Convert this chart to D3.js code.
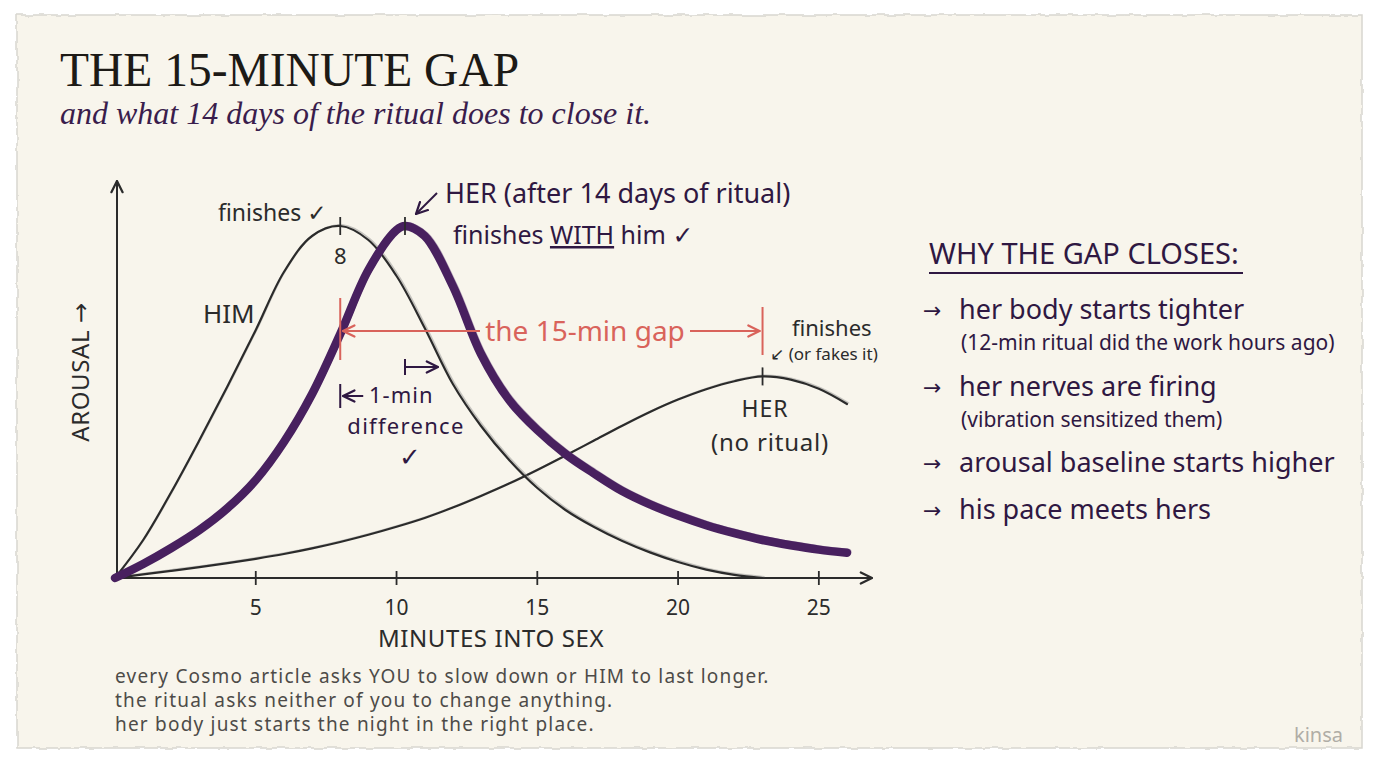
<!DOCTYPE html>
<html>
<head>
<meta charset="utf-8">
<script src="https://cdn.jsdelivr.net/npm/d3@7"></script>
<style>
  body { margin: 0; background: #fff; }
  svg text { font-family: "Noto Sans", sans-serif; }
  .sym { font-family: "DejaVu Sans", sans-serif; }
</style>
</head>
<body>
<div id="chart-area"></div>
<script>
// data (arousal 0-100, minutes into sex)
const himMinutes = [0,1,2,3,4,5,6,7,8,9,10,11,12,13,14,15,16,17,18,19,20,21,22,23]
const himArousal = [0,9.5,21.5,34.5,48,62,76.5,85.5,88,84.5,75.5,62.5,48.5,38,29.5,22.5,17,12.8,9.3,6.4,4,2.1,0.8,0]

const ritualMinutes = [0,1,2,3,4,5,6,7,8,9,10,10.3,11,12,13,14,15,16,17,18,19,20,21,22,23,24,25,26]
const ritualArousal = [0,3.5,7.5,12,17.5,24.5,34,46,61,77,87,88,85.5,73,56,44.5,37,31,26.2,21.8,18.4,15.6,13.2,11.2,9.5,8.2,7.1,6.3]

const noRitualMinutes = [0,1,2,3,4,5,6,7,8,9,10,11,12,13,14,15,16,17,18,19,20,21,22,23,24,25,26]
const noRitualArousal = [0,0.9,1.8,2.7,3.7,4.8,6,7.4,9,10.8,12.8,15,17.6,20.5,23.6,27,30.6,34.3,38,41.5,44.6,47.2,49.2,50.4,49.6,47.3,43.5]

const xTicks = [5, 10, 15, 20, 25]
const himPeak = 8
const ritualPeak = 10.3
const noRitualPeak = 23

const reasons = [
    ["her body starts tighter", "(12-min ritual did the work hours ago)"],
    ["her nerves are firing", "(vibration sensitized them)"],
    ["arousal baseline starts higher", null],
    ["his pace meets hers", null]
]
const footer = [
    "every Cosmo article asks YOU to slow down or HIM to last longer.",
    "the ritual asks neither of you to change anything.",
    "her body just starts the night in the right place."
]

const ink = "#2b2b2b"
const purple = "#2f1842"
const thick = "#48205f"
const red = "#d9635b"

const svg = d3.select("#chart-area").append("svg")
    .attr("width", 1376)
    .attr("height", 768)

const defs = svg.append("defs")
const rough = defs.append("filter").attr("id", "rough")
rough.append("feTurbulence").attr("type", "fractalNoise").attr("baseFrequency", 0.08).attr("numOctaves", 2).attr("result", "n")
rough.append("feDisplacementMap").attr("in", "SourceGraphic").attr("in2", "n").attr("scale", 4)

// marker heads
function head(id, color) {
    defs.append("marker").attr("id", id)
        .attr("viewBox", "0 0 10 10").attr("refX", 9).attr("refY", 5)
        .attr("markerWidth", 14).attr("markerHeight", 14).attr("markerUnits", "userSpaceOnUse")
        .attr("orient", "auto-start-reverse")
        .append("path").attr("d", "M1,1 L9,5 L1,9")
        .attr("fill", "none").attr("stroke", color).attr("stroke-width", 1.6).attr("stroke-linecap", "round")
}
head("hInk", ink)
head("hRed", red)
head("hPurple", purple)

// paper
svg.append("rect").attr("x", 17).attr("y", 15).attr("width", 1345).attr("height", 733)
    .attr("fill", "#f8f5ec").attr("stroke", "#d8d6d0").attr("stroke-width", 1.5)
    .attr("filter", "url(#rough)")

// title
svg.append("text").attr("x", 60).attr("y", 86)
    .style("font-family", "'Liberation Serif', serif").style("font-size", "47.5px")
    .attr("fill", "#1d1a16").text("THE 15-MINUTE GAP")
svg.append("text").attr("x", 60).attr("y", 124)
    .style("font-family", "'Liberation Serif', serif").style("font-size", "32px").style("font-style", "italic")
    .attr("fill", "#3a1d4c").text("and what 14 days of the ritual does to close it.")

// scales
const x = d3.scaleLinear().domain([0, 26]).range([115, 847])
const y = d3.scaleLinear().domain([0, 100]).range([578, 178])

// axes
const g = svg.append("g")
g.append("line").attr("x1", x(0) + 2).attr("y1", y(0) + 2).attr("x2", x(0) + 2).attr("y2", 181)
    .attr("stroke", ink).attr("stroke-width", 2).attr("marker-end", "url(#hInk)")
g.append("line").attr("x1", x(0) + 1).attr("y1", y(0)).attr("x2", 872).attr("y2", y(0))
    .attr("stroke", ink).attr("stroke-width", 2).attr("marker-end", "url(#hInk)")

g.selectAll(".tick").data(xTicks).enter().append("line")
    .attr("x1", d => x(d)).attr("x2", d => x(d))
    .attr("y1", y(0) - 7).attr("y2", y(0) + 7)
    .attr("stroke", ink).attr("stroke-width", 1.8)
g.selectAll(".tickLabel").data(xTicks).enter().append("text")
    .attr("x", d => x(d)).attr("y", 615)
    .attr("text-anchor", "middle").attr("fill", ink)
    .style("font-size", "21px").text(d => d)

g.append("text").attr("x", 491).attr("y", 647).attr("text-anchor", "middle")
    .attr("fill", ink).style("font-size", "24px").style("letter-spacing", "0.6px")
    .text("MINUTES INTO SEX")
const yl = g.append("text").attr("transform", "translate(89,372) rotate(-90)")
    .attr("text-anchor", "middle").attr("fill", ink).style("font-size", "24px")
    .style("letter-spacing", "0.6px")
yl.append("tspan").text("AROUSAL ")
yl.append("tspan").attr("class", "sym").text("\u2192")

// curves
const line = d3.line()
    .x(d => x(d[0]))
    .y(d => y(d[1]))
    .curve(d3.curveCatmullRom.alpha(0.5))

const him = d3.zip(himMinutes, himArousal)
const ritual = d3.zip(ritualMinutes, ritualArousal)
const noRitual = d3.zip(noRitualMinutes, noRitualArousal)

function sketch(data, color, width, shadow) {
    g.append("path").datum(data).attr("d", line)
        .attr("transform", "translate(1.5,-1.2)")
        .attr("fill", "none").attr("stroke", shadow).attr("stroke-width", width * 0.7)
        .attr("stroke-opacity", 0.45).attr("stroke-linecap", "round")
    g.append("path").datum(data).attr("d", line)
        .attr("fill", "none").attr("stroke", color).attr("stroke-width", width)
        .attr("stroke-linecap", "round").attr("stroke-linejoin", "round")
}
sketch(noRitual, ink, 2.2, "#888")
sketch(him, ink, 2.2, "#888")
sketch(ritual, thick, 8.5, "#6a4a80")

// peak markers
function peakTick(m, v) {
    g.append("line").attr("x1", x(m)).attr("x2", x(m))
        .attr("y1", y(v) - 9).attr("y2", y(v) + 9)
        .attr("stroke", ink).attr("stroke-width", 1.8)
}
peakTick(himPeak, 88)
peakTick(ritualPeak, 88)
peakTick(noRitualPeak, 50.4)

// HIM labels
g.append("text").attr("x", x(himPeak)).attr("y", 264).attr("text-anchor", "middle")
    .attr("fill", ink).style("font-size", "22px").text("8")
const fh = g.append("text").attr("x", 218).attr("y", 221).attr("fill", ink).style("font-size", "23px")
fh.append("tspan").text("finishes ")
fh.append("tspan").attr("class", "sym").text("\u2713")
g.append("text").attr("x", 203).attr("y", 323).attr("fill", ink)
    .style("font-size", "26px").text("HIM")

// HER ritual labels
g.append("line").attr("x1", 437).attr("y1", 193).attr("x2", 416).attr("y2", 214)
    .attr("stroke", purple).attr("stroke-width", 2).attr("marker-end", "url(#hPurple)")
g.append("text").attr("x", 445).attr("y", 203).attr("fill", purple)
    .style("font-size", "27px").text("HER (after 14 days of ritual)")
const fw = g.append("text").attr("x", 453).attr("y", 244).attr("fill", purple).style("font-size", "25px")
fw.append("tspan").text("finishes ")
fw.append("tspan").style("text-decoration", "underline").text("WITH")
fw.append("tspan").text(" him ")
fw.append("tspan").attr("class", "sym").text("\u2713")

// the 15-min gap
const gapY = 331
g.append("line").attr("x1", x(himPeak)).attr("x2", x(himPeak)).attr("y1", 298).attr("y2", 360)
    .attr("stroke", red).attr("stroke-width", 2)
g.append("line").attr("x1", 480).attr("x2", x(himPeak) + 3).attr("y1", gapY).attr("y2", gapY)
    .attr("stroke", red).attr("stroke-width", 2).attr("marker-end", "url(#hRed)")
g.append("text").attr("x", 585).attr("y", 341).attr("text-anchor", "middle")
    .attr("fill", red).style("font-size", "28px").text("the 15-min gap")
g.append("line").attr("x1", 690).attr("x2", x(noRitualPeak) - 3).attr("y1", gapY).attr("y2", gapY)
    .attr("stroke", red).attr("stroke-width", 2).attr("marker-end", "url(#hRed)")
g.append("line").attr("x1", x(noRitualPeak)).attr("x2", x(noRitualPeak)).attr("y1", 307).attr("y2", 355)
    .attr("stroke", red).attr("stroke-width", 2)

// HER no ritual labels
g.append("text").attr("x", 792).attr("y", 336).attr("fill", ink)
    .style("font-size", "22px").text("finishes")
const ft = g.append("text").attr("x", 770).attr("y", 360).attr("fill", ink).style("font-size", "17px")
ft.append("tspan").attr("class", "sym").text("\u2199")
ft.append("tspan").text(" (or fakes it)")
g.append("text").attr("x", 765).attr("y", 417).attr("text-anchor", "middle").attr("fill", ink)
    .style("font-size", "23px").style("letter-spacing", "1px").text("HER")
g.append("text").attr("x", 770).attr("y", 451).attr("text-anchor", "middle").attr("fill", ink)
    .style("font-size", "24px").style("letter-spacing", "0.8px").text("(no ritual)")

// 1-min difference
g.append("line").attr("x1", x(ritualPeak)).attr("x2", x(ritualPeak)).attr("y1", 359).attr("y2", 375)
    .attr("stroke", purple).attr("stroke-width", 2)
g.append("line").attr("x1", x(ritualPeak)).attr("x2", x(ritualPeak) + 33).attr("y1", 367).attr("y2", 367)
    .attr("stroke", purple).attr("stroke-width", 2).attr("marker-end", "url(#hPurple)")
g.append("line").attr("x1", x(himPeak)).attr("x2", x(himPeak)).attr("y1", 384).attr("y2", 408)
    .attr("stroke", purple).attr("stroke-width", 2)
g.append("line").attr("x1", x(himPeak) + 23).attr("x2", x(himPeak) + 3).attr("y1", 396).attr("y2", 396)
    .attr("stroke", purple).attr("stroke-width", 2).attr("marker-end", "url(#hPurple)")
g.append("text").attr("x", 369).attr("y", 403).attr("fill", purple)
    .style("font-size", "22px").style("letter-spacing", "1px").text("1-min")
g.append("text").attr("x", 406).attr("y", 434).attr("text-anchor", "middle").attr("fill", purple)
    .style("font-size", "22px").style("letter-spacing", "1.3px").text("difference")
g.append("text").attr("x", 410).attr("y", 466).attr("text-anchor", "middle").attr("fill", purple)
    .attr("class", "sym").style("font-size", "26px").text("\u2713")

// right panel
const side = svg.append("g")
side.append("text").attr("x", 929).attr("y", 264).attr("fill", purple)
    .style("font-size", "29px").text("WHY THE GAP CLOSES:")
side.append("line").attr("x1", 929).attr("x2", 1243).attr("y1", 273).attr("y2", 273)
    .attr("stroke", purple).attr("stroke-width", 2)

const rowY = [319, 396, 472, 519]
reasons.forEach((r, i) => {
    side.append("text").attr("x", 923).attr("y", rowY[i] - 1).attr("fill", purple)
        .attr("class", "sym").style("font-size", "22px").text("\u2192")
    side.append("text").attr("x", 959).attr("y", rowY[i]).attr("fill", purple)
        .style("font-size", "27px").text(r[0])
    if (r[1]) {
        side.append("text").attr("x", 961).attr("y", rowY[i] + 31).attr("fill", purple)
            .style("font-size", "21px").text(r[1])
    }
})

// footer
svg.selectAll(".foot").data(footer).enter().append("text")
    .attr("x", 115).attr("y", (d, i) => 683 + i * 24)
    .attr("fill", "#4d4b48").style("font-size", "19px").style("letter-spacing", "1.2px")
    .text(d => d)

svg.append("text").attr("x", 1343).attr("y", 742).attr("text-anchor", "end")
    .attr("fill", "#b0ada6").style("font-size", "20px").text("kinsa")
</script>
</body>
</html>
